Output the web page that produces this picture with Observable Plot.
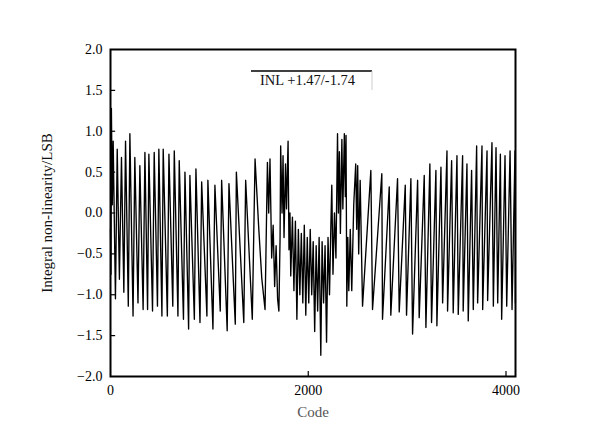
<!DOCTYPE html>
<html><head><meta charset="utf-8">
<script src="https://cdn.jsdelivr.net/npm/d3@7"></script>
<script src="https://cdn.jsdelivr.net/npm/@observablehq/plot@0.6"></script>
<style>body{margin:0;background:#fff}</style>
</head><body><div id="chart"></div>
<script>
const codes = [0,5,9,18,27,50,68,90,111,135,152,180,196,228,246,278,297,330,348,375,388,425,442,475,489,520,533,575,591,630,645,682,695,738,753,790,803,848,864,905,922,975,985,1036,1056,1110,1124,1180,1198,1262,1273,1348,1367,1434,1462,1500,1530,1563,1587,1600,1613,1630,1645,1660,1675,1690,1703,1715,1721,1735,1745,1755,1770,1780,1796,1805,1815,1823,1840,1855,1870,1885,1900,1915,1930,1945,1960,1975,1990,2005,2020,2035,2050,2065,2080,2095,2110,2127,2140,2155,2170,2185,2200,2215,2228,2238,2250,2265,2280,2296,2305,2315,2325,2340,2350,2365,2375,2382,2390,2400,2410,2425,2440,2460,2480,2490,2500,2510,2525,2549,2633,2650,2744,2751,2819,2835,2903,2920,2981,2994,3038,3055,3106,3122,3173,3190,3230,3247,3291,3301,3342,3359,3403,3409,3450,3466,3504,3517,3561,3567,3605,3618,3652,3669,3703,3713,3757,3764,3808,3814,3858,3872,3899,3916,3943,3956,3990,4007,4041,4061,4091,4095];
const inl = [-0.20,-0.75,1.28,0.10,0.88,-1.05,0.78,-0.81,0.68,-0.97,0.88,-1.14,0.97,-1.26,0.68,-1.10,0.58,-1.18,0.74,-1.18,0.72,-1.20,0.74,-1.14,0.78,-1.26,0.78,-1.26,0.72,-1.14,0.76,-1.26,0.64,-1.30,0.50,-1.42,0.46,-1.30,0.54,-1.34,0.38,-1.26,0.40,-1.42,0.34,-1.20,0.40,-1.44,0.36,-1.36,0.50,-1.34,0.40,-1.30,0.66,-0.20,-0.80,-1.18,0.62,0.00,0.66,-0.55,-0.15,-0.90,-0.40,-1.05,-1.20,-0.30,0.82,0.00,0.70,-0.30,0.60,0.05,0.88,-0.45,0.00,-0.77,-0.05,-0.95,-0.10,-1.30,-0.20,-1.00,-0.25,-1.10,-0.15,-1.25,-0.30,-1.10,-0.20,-1.00,-0.35,-1.45,-0.40,-1.20,-0.30,-1.74,-0.35,-1.10,-0.40,-1.58,-0.30,-1.00,-0.20,0.34,-0.75,0.00,-0.55,0.97,0.00,0.75,-0.25,0.90,0.05,0.97,0.20,0.95,-1.14,-0.30,-0.95,-0.20,-0.95,0.10,0.60,-0.20,0.58,-0.50,0.40,-1.14,0.52,-1.18,0.48,-1.30,0.32,-1.25,0.42,-1.21,0.34,-1.25,0.42,-1.48,0.40,-1.28,0.46,-1.40,0.60,-1.34,0.52,-1.38,0.56,-1.10,0.76,-1.20,0.64,-1.22,0.70,-1.24,0.70,-1.20,0.60,-1.32,0.52,-1.18,0.82,-1.10,0.82,-1.18,0.76,-1.07,0.86,-1.14,0.80,-1.10,0.72,-1.30,0.70,-1.14,0.76,-1.18,0.76,-1.10];
const yTicks = [2, 1.5, 1, 0.5, 0, -0.5, -1, -1.5, -2];
const yTickLabels = ["2.0", "1.5", "1.0", "0.5", "0.0", "\u22120.5", "\u22121.0", "\u22121.5", "\u22122.0"];
const xTicks = [0, 2000, 4000];
const xTickLabels = ["0", "2000", "4000"];
const yLabel = "Integral non-linearity/LSB";
const xLabel = "Code";
const legendText = "INL +1.47/-1.74";

const n = Math.min(codes.length, inl.length);
const data = codes.slice(0, n).map((c, i) => ({code: c, v: inl[i]}));

const plot = Plot.plot({
  width: 590, height: 428,
  marginLeft: 110, marginRight: 75, marginTop: 49, marginBottom: 52,
  style: {fontFamily: "'Liberation Serif', 'DejaVu Serif', serif", fontSize: "14px", background: "white", color: "black"},
  x: {domain: [0, 4096]},
  y: {domain: [-2, 2]},
  marks: [
    Plot.line(data, {x: "code", y: "v", stroke: "black", strokeWidth: 1.35}),
    Plot.ruleY(yTicks.slice(1, -1), {x1: 0, x2: 52, stroke: "black", strokeWidth: 1.2}),
    Plot.ruleX(xTicks.slice(1), {y1: -2, y2: -1.94, stroke: "black", strokeWidth: 1.2}),
    Plot.axisY({ticks: yTicks, tickSize: 0, tickPadding: 8, label: null,
      tickFormat: d => yTickLabels[yTicks.indexOf(d)], fontSize: 14}),
    Plot.axisX({ticks: xTicks, tickSize: 0, tickPadding: 9, label: null,
      tickFormat: d => xTickLabels[xTicks.indexOf(d)], fontSize: 14}),
    Plot.text([yLabel], {text: d => d, frameAnchor: "left", dx: -63, rotate: -90, textAnchor: "middle", lineAnchor: "middle", fontSize: 15, fill: "#111"}),
    Plot.text([xLabel], {text: d => d, frameAnchor: "bottom", dy: 36, textAnchor: "middle", lineAnchor: "middle", fontSize: 15, fill: "#555"}),
    Plot.frame({stroke: "black", strokeWidth: 2})
  ]
});
document.getElementById("chart").append(plot);

// legend box (top line, light right edge, label)
const svg = d3.select(plot);
const g = svg.append("g").attr("class", "legend");
g.append("line").attr("x1", 251).attr("x2", 372).attr("y1", 71).attr("y2", 71)
  .attr("stroke", "black").attr("stroke-width", 1.3);
g.append("line").attr("x1", 372).attr("x2", 372).attr("y1", 71).attr("y2", 90)
  .attr("stroke", "#ccc").attr("stroke-width", 1);
g.append("text").attr("x", 260).attr("y", 85).attr("text-anchor", "start").text(legendText)
  .attr("font-family", "'Liberation Serif', serif").attr("font-size", 14.5).attr("fill", "#111");
</script>
</body></html>
